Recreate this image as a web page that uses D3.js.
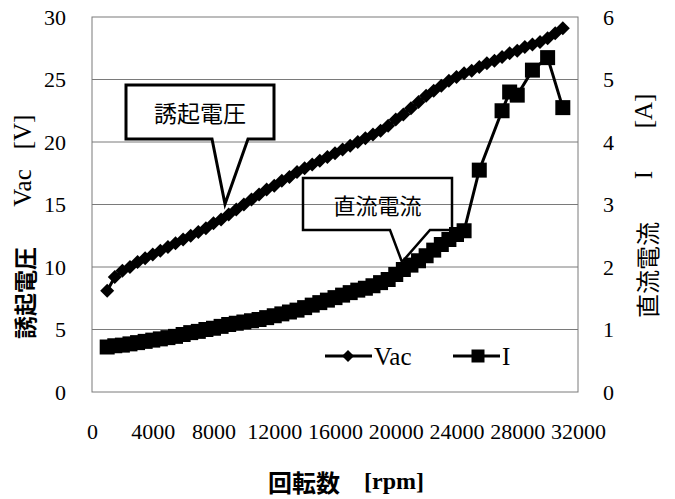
<!DOCTYPE html>
<html>
<head>
<meta charset="utf-8">
<script src="https://cdn.jsdelivr.net/npm/d3@7"></script>
<style>
  body { margin: 0; background: #fff; }
  svg { display: block; }
  .tick text { font-family: "Liberation Serif", "DejaVu Serif", serif; font-size: 22px; }
</style>
</head>
<body>
<svg id="chart"></svg>
<script>
// data
const vacRpm = [1000, 1500, 2000, 2500, 3000, 3500, 4000, 4500, 5000, 5500,
  6000, 6500, 7000, 7500, 8000, 8500, 9000, 9500, 10000, 10500,
  11000, 11500, 12000, 12500, 13000, 13500, 14000, 14500, 15000, 15500,
  16000, 16500, 17000, 17500, 18000, 18500, 19000, 19500, 20000, 20500,
  21000, 21500, 22000, 22500, 23000, 23500, 24000, 24500, 25000, 25500,
  26000, 26500, 27000, 27500, 28000, 28500, 29000, 29500, 30000, 30500, 31000];
const vac = [8.1, 9.2, 9.7, 10.0, 10.4, 10.7, 11.0, 11.3, 11.6, 11.9,
  12.2, 12.5, 12.8, 13.1, 13.5, 13.8, 14.2, 14.6, 15.0, 15.4,
  15.8, 16.2, 16.5, 16.9, 17.2, 17.6, 17.9, 18.2, 18.5, 18.8,
  19.1, 19.4, 19.7, 20.0, 20.3, 20.6, 20.9, 21.3, 21.8, 22.2,
  22.7, 23.2, 23.7, 24.1, 24.5, 24.9, 25.2, 25.5, 25.7, 26.0,
  26.3, 26.5, 26.8, 27.1, 27.3, 27.6, 27.8, 28.0, 28.3, 28.7, 29.1];

const iRpm = [1000, 1500, 2000, 2500, 3000, 3500, 4000, 4500, 5000, 5500,
  6000, 6500, 7000, 7500, 8000, 8500, 9000, 9500, 10000, 10500,
  11000, 11500, 12000, 12500, 13000, 13500, 14000, 14500, 15000, 15500,
  16000, 16500, 17000, 17500, 18000, 18500, 19000, 19500, 20000, 20500,
  21000, 21500, 22000, 22500, 23000, 23500, 24000, 24500,
  25500, 27000, 27500, 28000, 29000, 30000, 31000];
const current = [0.72, 0.74, 0.75, 0.77, 0.79, 0.81, 0.83, 0.85, 0.87, 0.89,
  0.92, 0.95, 0.97, 1.00, 1.02, 1.05, 1.08, 1.10, 1.12, 1.14,
  1.16, 1.19, 1.22, 1.25, 1.28, 1.31, 1.35, 1.39, 1.43, 1.47,
  1.51, 1.55, 1.59, 1.63, 1.66, 1.70, 1.75, 1.80, 1.88, 1.96,
  2.03, 2.10, 2.18, 2.27, 2.36, 2.44, 2.52, 2.58,
  3.55, 4.50, 4.80, 4.75, 5.15, 5.35, 4.55];

const xTicks = [0, 4000, 8000, 12000, 16000, 20000, 24000, 28000, 32000];
const vTicks = [0, 5, 10, 15, 20, 25, 30];
const aTicks = [0, 1, 2, 3, 4, 5, 6];

const width = 675;
const height = 499;
const margin = { left: 92, right: 97, top: 17, bottom: 107 };

const serif = "'Liberation Serif', 'DejaVu Serif', serif";
const cjk = "'Noto Sans CJK JP', sans-serif";

const svg = d3.select("#chart")
    .attr("width", width)
    .attr("height", height);

const xScale = d3.scaleLinear()
    .domain([0, 32000])
    .range([margin.left, width - margin.right]);

const yScale = d3.scaleLinear()
    .domain([0, 30])
    .range([height - margin.bottom, margin.top]);

const y2Scale = d3.scaleLinear()
    .domain([0, 6])
    .range([height - margin.bottom, margin.top]);

// grid
svg.append("g")
    .selectAll("line")
    .data(vTicks.slice(1, -1))
    .enter()
    .append("line")
    .attr("x1", margin.left)
    .attr("x2", width - margin.right)
    .attr("y1", d => yScale(d))
    .attr("y2", d => yScale(d))
    .attr("stroke", "#7a7a7a")
    .attr("stroke-width", 1);

svg.append("rect")
    .attr("x", margin.left)
    .attr("y", margin.top)
    .attr("width", width - margin.left - margin.right)
    .attr("height", height - margin.top - margin.bottom)
    .attr("fill", "none")
    .attr("stroke", "#7a7a7a")
    .attr("stroke-width", 1);

// axes
const fmt = d3.format("d");
const xAxis = d3.axisBottom(xScale).tickValues(xTicks).tickFormat(fmt).tickSize(0).tickPadding(31);
const yAxis = d3.axisLeft(yScale).tickValues(vTicks).tickFormat(fmt).tickSize(0).tickPadding(26);
const y2Axis = d3.axisRight(y2Scale).tickValues(aTicks).tickFormat(fmt).tickSize(0).tickPadding(25);

function styleAxis(g) {
    g.attr("font-family", serif).attr("font-size", 22);
    g.select(".domain").remove();
    g.selectAll("text").attr("fill", "#000");
}

svg.append("g")
    .attr("transform", `translate(0, ${height - margin.bottom})`)
    .call(xAxis)
    .call(styleAxis);

svg.append("g")
    .attr("transform", `translate(${margin.left}, 0)`)
    .call(yAxis)
    .call(styleAxis);

svg.append("g")
    .attr("transform", `translate(${width - margin.right}, 0)`)
    .call(y2Axis)
    .call(styleAxis);

// series
const vacData = vacRpm.map((r, i) => [r, vac[i]]);
const iData = iRpm.map((r, i) => [r, current[i]]);

const diamond = d3.symbol().type(d3.symbolSquare).size(98);
const square = d3.symbol().type(d3.symbolSquare).size(225);

svg.append("path")
    .datum(vacData)
    .attr("fill", "none")
    .attr("stroke", "#000")
    .attr("stroke-width", 3)
    .attr("d", d3.line().x(d => xScale(d[0])).y(d => yScale(d[1])));

svg.append("g")
    .selectAll("path")
    .data(vacData)
    .enter()
    .append("path")
    .attr("d", diamond)
    .attr("transform", d => `translate(${xScale(d[0])}, ${yScale(d[1])}) rotate(45)`)
    .attr("fill", "#000");

svg.append("path")
    .datum(iData)
    .attr("fill", "none")
    .attr("stroke", "#000")
    .attr("stroke-width", 3)
    .attr("d", d3.line().x(d => xScale(d[0])).y(d => y2Scale(d[1])));

svg.append("g")
    .selectAll("path")
    .data(iData)
    .enter()
    .append("path")
    .attr("d", square)
    .attr("transform", d => `translate(${xScale(d[0])}, ${y2Scale(d[1])})`)
    .attr("fill", "#000");

// callouts
function callout(box, base, tip, label, size, sw) {
    const [x0, y0, x1, y1] = box;
    svg.append("path")
        .attr("d", `M${x0},${y0}H${x1}V${y1}H${base[1]}L${tip[0]},${tip[1]}L${base[0]},${y1}H${x0}Z`)
        .attr("fill", "none")
        .attr("stroke", "#000")
        .attr("stroke-width", sw)
        .attr("stroke-linejoin", "miter");
    svg.append("text")
        .attr("x", (x0 + x1) / 2)
        .attr("y", (y0 + y1) / 2)
        .attr("text-anchor", "middle")
        .attr("dominant-baseline", "central")
        .attr("font-family", cjk)
        .attr("font-size", size)
        .text(label);
}

callout([126, 85, 274, 139], [212, 248], [225, 204], "誘起電圧", 23, 3);
callout([303, 178, 452, 230], [390, 430], [402, 262], "直流電流", 22, 2.5);

// legend
const legend = svg.append("g");
legend.append("line")
    .attr("x1", 325).attr("x2", 372).attr("y1", 356).attr("y2", 356)
    .attr("stroke", "#000").attr("stroke-width", 3);
legend.append("path")
    .attr("d", d3.symbol().type(d3.symbolSquare).size(72))
    .attr("transform", "translate(348, 356) rotate(45)");
legend.append("text")
    .attr("x", 374).attr("y", 365)
    .attr("font-family", serif).attr("font-size", 25)
    .text("Vac");
legend.append("line")
    .attr("x1", 453).attr("x2", 500).attr("y1", 356).attr("y2", 356)
    .attr("stroke", "#000").attr("stroke-width", 3);
legend.append("path")
    .attr("d", d3.symbol().type(d3.symbolSquare).size(169))
    .attr("transform", "translate(478, 356)");
legend.append("text")
    .attr("x", 502).attr("y", 365)
    .attr("font-family", serif).attr("font-size", 25)
    .text("I");

// axis titles
function vertical(x, y, txt, font, size, weight) {
    svg.append("text")
        .attr("transform", `translate(${x}, ${y}) rotate(-90)`)
        .attr("text-anchor", "middle")
        .attr("dominant-baseline", "central")
        .attr("font-family", font)
        .attr("font-size", size)
        .attr("font-weight", weight)
        .text(txt);
}

vertical(24, 293, "誘起電圧", cjk, 23, "bold");
vertical(22, 188, "Vac", serif, 25, "normal");
vertical(22, 132, "[V]", serif, 25, "normal");

vertical(646, 270, "直流電流", cjk, 24, "normal");
vertical(643, 175, "I", serif, 25, "normal");
vertical(643, 111, "[A]", serif, 25, "normal");

svg.append("text")
    .attr("x", 268).attr("y", 481)
    .attr("dominant-baseline", "central")
    .attr("font-family", cjk).attr("font-size", 24).attr("font-weight", "bold")
    .text("回転数");
svg.append("text")
    .attr("x", 364).attr("y", 489)
    .attr("font-family", serif).attr("font-size", 24).attr("font-weight", "bold")
    .text("[rpm]");
</script>
</body>
</html>
